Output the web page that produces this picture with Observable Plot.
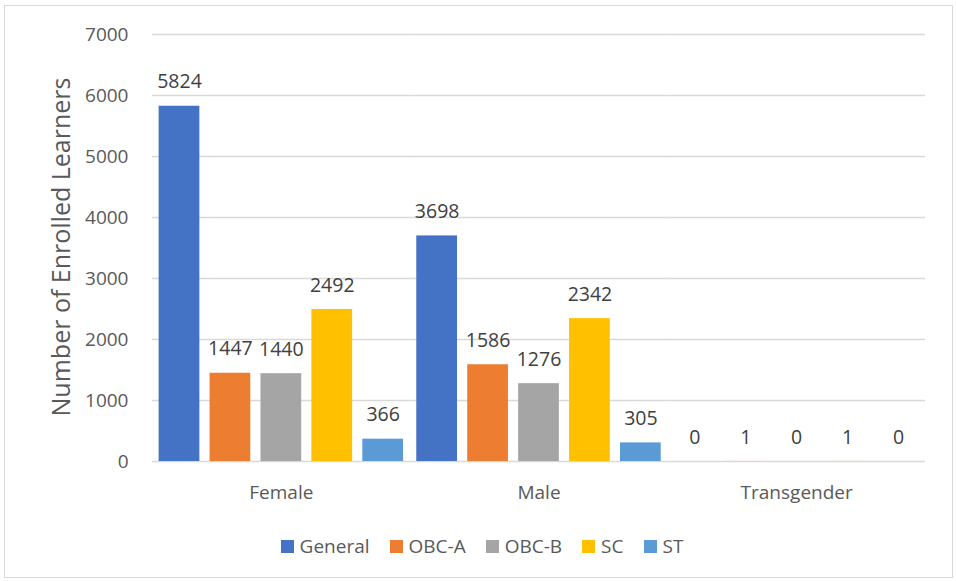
<!DOCTYPE html>
<html>
<head>
<meta charset="utf-8">
<script src="https://cdn.jsdelivr.net/npm/d3@7"></script>
<script src="https://cdn.jsdelivr.net/npm/@observablehq/plot@0.6"></script>
<style>
  body { margin: 0; background: #fff; font-family: "Open Sans", sans-serif; }
  #wrap { position: relative; width: 956px; height: 581px; overflow: hidden; }
  #border { position: absolute; left: 4px; top: 5px; width: 949px; height: 573px; border: 1px solid #d9d9d9; box-sizing: border-box; }
  #chart { position: absolute; left: 0; top: 0; }
  #ytitle { position: absolute; left: 60px; top: 247px; transform: translate(-50%, -50%) rotate(-90deg); white-space: nowrap; font-size: 25px; color: #595959; }
  #legend { position: absolute; left: 0; width: 956px; top: 533px; display: flex; justify-content: center; align-items: center; font-size: 19px; color: #595959; padding-left: 8px; box-sizing: border-box; }
  .item { display: flex; align-items: center; margin: 0 10px; }
  .sw { width: 13px; height: 13px; margin-right: 6px; }
</style>
</head>
<body>
<div id="wrap">
  <div id="border"></div>
  <div id="chart"></div>
  <div id="ytitle">Number of Enrolled Learners</div>
  <div id="legend"></div>
</div>
<script>
const genders = ["Female", "Male", "Transgender"];
const categories = ["General", "OBC-A", "OBC-B", "SC", "ST"];
const colors = ["#4472C4", "#ED7D31", "#A5A5A5", "#FFC000", "#5B9BD5"];
const femaleValues = [5824, 1447, 1440, 2492, 366];
const maleValues = [3698, 1586, 1276, 2342, 305];
const transValues = [0, 1, 0, 1, 0];
const yTicks = [0, 1000, 2000, 3000, 4000, 5000, 6000, 7000];

const seriesByGender = [femaleValues, maleValues, transValues];
const data = [];
genders.forEach((g, gi) => categories.forEach((c, ci) => data.push({gender: g, category: c, value: seriesByGender[gi][ci]})));

const plot = Plot.plot({
  width: 956,
  height: 510,
  marginLeft: 152,
  marginRight: 31,
  marginTop: 34,
  marginBottom: 49,
  style: {fontFamily: "'Open Sans', sans-serif", background: "transparent"},
  fx: {domain: genders, padding: 0, round: false, label: null, axis: null},
  x: {domain: categories, paddingInner: 0.2, paddingOuter: 0.13, round: false, axis: null},
  y: {domain: [0, 7000], label: null, axis: null},
  color: {domain: categories, range: colors},
  marks: [
    Plot.ruleY(yTicks, {stroke: "#d9d9d9", strokeWidth: 1.5}),
    Plot.barY(data, {fx: "gender", x: "category", y: "value", fill: "category"}),
    Plot.text(data, {fx: "gender", x: "category", y: "value", text: d => String(d.value), dy: -24, fontSize: 19.5, fill: "#404040"}),
    Plot.axisY({ticks: yTicks, tickSize: 0, tickPadding: 24, tickFormat: d => String(d), fontSize: 19, color: "#595959", label: null}),
    Plot.axisFx({anchor: "bottom", tickSize: 0, tickPadding: 24, fontSize: 19, color: "#595959", label: null})
  ]
});
document.getElementById("chart").appendChild(plot);

const legend = document.getElementById("legend");
categories.forEach((c, i) => {
  const item = document.createElement("div");
  item.className = "item";
  const sw = document.createElement("div");
  sw.className = "sw";
  sw.style.background = colors[i];
  const t = document.createElement("span");
  t.textContent = c;
  item.appendChild(sw);
  item.appendChild(t);
  legend.appendChild(item);
});
</script>
</body>
</html>
